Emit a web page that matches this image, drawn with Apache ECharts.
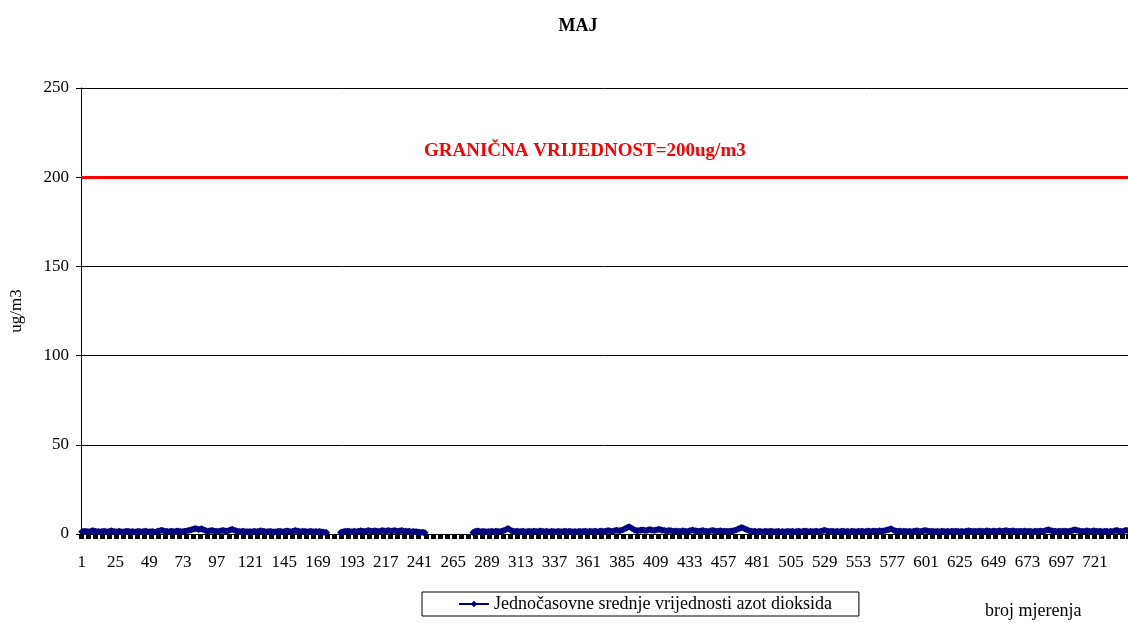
<!DOCTYPE html>
<html>
<head>
<meta charset="utf-8">
<script src="https://cdn.jsdelivr.net/npm/echarts@6/dist/echarts.min.js"></script>
<style>html,body{margin:0;padding:0;background:#fff}#c{width:1128px;height:623px}</style>
</head>
<body>
<div id="c"></div>
<script>
// hourly NO2 values for May (31 days x 24 h), null = no measurement
const no2Values = [
  // day 1
  1.2,1.5,1.4,1.6,1.3,1.2, 1.4,1.7,1.9,1.6,1.5,1.3, 1.4,1.2,1.3,1.5,1.6,1.4, 1.3,1.2,1.5,1.8,1.6,1.4,
  // day 2
  1.3,1.2,1.4,1.5,1.3,1.1, 1.2,1.4,1.6,1.5,1.3,1.2, 1.4,1.3,1.1,1.2,1.5,1.4, 1.3,1.2,1.4,1.6,1.5,1.3,
  // day 3
  1.2,1.3,1.4,1.2,1.1,1.3, 1.5,1.7,1.9,2.1,1.8,1.6, 1.5,1.4,1.3,1.5,1.6,1.4, 1.3,1.5,1.7,1.6,1.4,1.3,
  // day 4
  1.4,1.5,1.6,1.8,2.0,2.2, 2.4,2.6,2.9,3.1,2.8,2.5, 2.7,3.0,2.6,2.2,1.9,1.7, 1.6,1.8,2.0,1.9,1.7,1.6,
  // day 5
  1.5,1.4,1.6,1.8,2.0,1.9, 1.7,1.6,1.8,2.1,2.4,2.6, 2.3,1.9,1.7,1.5,1.4,1.3, 1.5,1.6,1.4,1.3,1.2,1.4,
  // day 6
  1.3,1.2,1.4,1.5,1.3,1.4, 1.6,1.8,1.7,1.5,1.4,1.3, 1.2,1.4,1.5,1.3,1.2,1.1, 1.3,1.4,1.6,1.5,1.3,1.2,
  // day 7
  1.4,1.5,1.7,1.6,1.4,1.3, 1.5,1.8,2.0,1.7,1.5,1.4, 1.3,1.5,1.6,1.4,1.3,1.2, 1.4,1.5,1.3,1.2,1.4,1.3,
  // day 8
  1.2,1.4,1.3,1.1,1.0,0.9, 0.8,null,null,null,null,null, null,null,null,null,0.9,1.1, 1.3,1.5,1.4,1.6,1.5,1.3,
  // day 9
  1.2,1.4,1.5,1.3,1.4,1.6, 1.8,1.7,1.5,1.4,1.6,1.8, 1.9,1.7,1.5,1.6,1.8,1.7, 1.5,1.4,1.6,1.8,1.9,1.7,
  // day 10
  1.6,1.8,2.0,1.8,1.6,1.7, 1.9,1.8,1.6,1.5,1.7,1.9, 1.8,1.6,1.5,1.4,1.6,1.5, 1.3,1.2,1.4,1.3,1.2,1.1,
  // day 11
  1.0,0.9,1.0,0.8,0.7,null, null,null,null,null,null,null, null,null,null,null,null,null, null,null,null,null,null,null,
  // day 12
  null,null,null,null,null,null, null,null,null,null,null,null, null,null,0.9,1.2,1.5,1.7, 1.6,1.4,1.3,1.5,1.4,1.3,
  // day 13
  1.2,1.4,1.3,1.5,1.4,1.3, 1.5,1.6,1.4,1.3,1.5,1.7, 1.9,2.3,2.8,3.1,2.6,2.0, 1.7,1.5,1.4,1.6,1.5,1.3,
  // day 14
  1.4,1.6,1.5,1.3,1.2,1.4, 1.5,1.3,1.4,1.6,1.5,1.4, 1.3,1.5,1.7,1.6,1.4,1.3, 1.5,1.4,1.2,1.3,1.5,1.4,
  // day 15
  1.3,1.2,1.4,1.5,1.3,1.2, 1.4,1.6,1.5,1.3,1.4,1.5, 1.3,1.2,1.4,1.3,1.2,1.4, 1.5,1.3,1.4,1.6,1.5,1.4,
  // day 16
  1.3,1.5,1.4,1.3,1.5,1.6, 1.4,1.3,1.5,1.7,1.6,1.4, 1.5,1.7,1.9,1.8,1.6,1.5, 1.7,1.9,2.1,1.9,1.8,2.0,
  // day 17
  2.2,2.5,2.9,3.4,3.8,4.1, 3.7,3.2,2.7,2.3,2.0,1.8, 1.9,2.1,2.3,2.2,2.0,1.9, 2.1,2.4,2.5,2.3,2.1,2.0,
  // day 18
  2.2,2.4,2.6,2.5,2.3,2.1, 1.9,1.8,1.7,1.9,2.0,1.8, 1.6,1.5,1.7,1.6,1.5,1.4, 1.6,1.8,1.7,1.5,1.4,1.6,
  // day 19
  1.8,2.0,2.2,2.0,1.8,1.7, 1.6,1.5,1.7,1.9,1.8,1.6, 1.5,1.4,1.6,1.8,2.0,1.9, 1.7,1.6,1.5,1.7,1.8,1.6,
  // day 20
  1.5,1.6,1.5,1.4,1.6,1.5, 1.7,1.8,2.0,2.3,2.6,3.0, 3.3,3.6,3.4,3.0,2.6,2.2, 1.9,1.7,1.5,1.4,1.5,1.4,
  // day 21
  1.3,1.4,1.5,1.3,1.2,1.4, 1.5,1.4,1.3,1.5,1.6,1.4, 1.3,1.2,1.4,1.5,1.3,1.2, 1.4,1.3,1.2,1.4,1.5,1.3,
  // day 22
  1.4,1.5,1.3,1.2,1.4,1.6, 1.5,1.3,1.4,1.5,1.7,1.6, 1.4,1.3,1.5,1.4,1.3,1.5, 1.6,1.4,1.3,1.5,1.7,1.9,
  // day 23
  2.1,1.8,1.6,1.5,1.4,1.6, 1.5,1.3,1.4,1.5,1.3,1.4, 1.6,1.5,1.4,1.3,1.5,1.4, 1.3,1.5,1.6,1.4,1.3,1.4,
  // day 24
  1.5,1.4,1.6,1.5,1.3,1.4, 1.5,1.7,1.6,1.4,1.5,1.7, 1.6,1.5,1.6,1.8,1.7,1.6, 1.8,2.0,2.2,2.4,2.7,2.9,
  // day 25
  2.5,2.1,1.8,1.6,1.5,1.7, 1.6,1.4,1.5,1.6,1.4,1.3, 1.5,1.4,1.3,1.5,1.6,1.8, 1.7,1.5,1.4,1.6,1.8,2.0,
  // day 26
  1.9,1.7,1.6,1.5,1.4,1.5, 1.3,1.4,1.5,1.3,1.4,1.6, 1.5,1.4,1.3,1.5,1.4,1.3, 1.5,1.6,1.4,1.5,1.6,1.4,
  // day 27
  1.3,1.5,1.4,1.3,1.5,1.6, 1.8,1.7,1.5,1.4,1.6,1.5, 1.4,1.5,1.7,1.6,1.5,1.4, 1.6,1.8,1.7,1.5,1.4,1.6,
  // day 28
  1.7,1.5,1.4,1.6,1.8,1.7, 1.5,1.6,1.8,1.9,1.7,1.6, 1.5,1.7,1.8,1.6,1.5,1.4, 1.6,1.5,1.4,1.6,1.7,1.5,
  // day 29
  1.4,1.6,1.5,1.4,1.3,1.5, 1.6,1.4,1.5,1.7,1.6,1.5, 1.7,1.9,2.2,2.4,2.1,1.8, 1.7,1.6,1.5,1.4,1.6,1.5,
  // day 30
  1.4,1.5,1.7,1.6,1.5,1.4, 1.6,1.8,2.0,2.2,2.4,2.1, 1.9,1.7,1.6,1.5,1.4,1.6, 1.8,1.7,1.5,1.4,1.6,1.8,
  // day 31
  1.7,1.5,1.4,1.6,1.5,1.4, 1.3,1.5,1.6,1.4,1.3,1.5, 1.4,1.6,1.8,2.0,1.9,1.7, 1.5,1.4,1.6,1.8,2.1,1.9
];
const limitValue = 200;
const yTicks = [0, 50, 100, 150, 200, 250];
const categories = no2Values.map((v, i) => String(i + 1));

const serif = '"Liberation Serif", "Times New Roman", serif';
const chart = echarts.init(document.getElementById('c'));
chart.setOption({
  animation: false,
  backgroundColor: '#fff',
  title: {
    text: 'MAJ', left: 573, top: 12, textAlign: 'center',
    textStyle: { fontFamily: serif, fontSize: 18, fontWeight: 'bold', color: '#000' }
  },
  grid: { left: 80, right: 0, top: 88, bottom: 89 },
  legend: {
    data: ['Jednočasovne srednje vrijednosti azot dioksida'],
    left: 422, top: 592,
    padding: [3, 27, 3, 36],
    borderColor: '#000', borderWidth: 1,
    itemWidth: 30, itemHeight: 8,
    textStyle: { fontFamily: serif, fontSize: 18, color: '#000' }
  },
  graphic: [
    { type: 'text', left: 424, top: 142,
      style: { text: 'GRANIČNA VRIJEDNOST=' + limitValue + 'ug/m3', fill: '#ff0000',
               font: 'bold 19px ' + serif } },
    { type: 'text', left: 985, top: 602,
      style: { text: 'broj mjerenja', fill: '#000', font: '18px ' + serif } }
  ],
  xAxis: {
    type: 'category', data: categories, boundaryGap: true,
    axisLine: { lineStyle: { color: '#000', width: 1 } },
    axisTick: { show: true, interval: 4, length: 5, lineStyle: { color: '#000', width: 5 } },
    axisLabel: { interval: 23, fontFamily: serif, fontSize: 17, color: '#000', margin: 20 },
    splitLine: { show: false }
  },
  yAxis: {
    type: 'value', min: yTicks[0], max: yTicks[yTicks.length - 1], interval: 50,
    name: 'ug/m3', nameLocation: 'middle', nameGap: 56,
    nameTextStyle: { fontFamily: serif, fontSize: 17, color: '#000' },
    axisLine: { show: true, lineStyle: { color: '#000' } },
    axisTick: { show: true, length: 5, lineStyle: { color: '#000' } },
    axisLabel: { fontFamily: serif, fontSize: 17, color: '#000', margin: 12 },
    splitLine: { lineStyle: { color: '#000', width: 1 } }
  },
  series: [{
    name: 'Jednočasovne srednje vrijednosti azot dioksida',
    type: 'line', data: no2Values, connectNulls: false,
    symbol: 'diamond', symbolSize: 7, showAllSymbol: true,
    itemStyle: { color: '#000080' },
    lineStyle: { color: '#000080', width: 1.5 },
    markLine: {
      silent: true, symbol: 'none', label: { show: false },
      lineStyle: { color: '#ff0000', width: 3, type: 'solid' },
      data: [{ yAxis: limitValue }]
    }
  }]
});
</script>
</body>
</html>
